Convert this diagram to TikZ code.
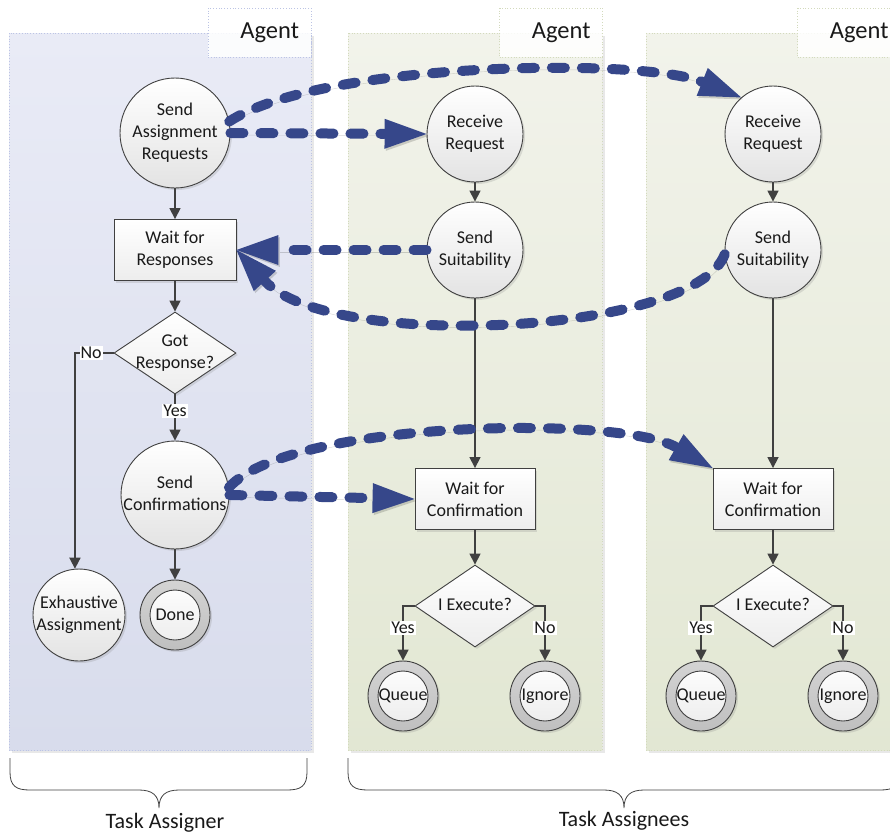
\documentclass[tikz,border=0pt]{standalone}
\usepackage{fontspec}
\setmainfont{Carlito}
\usetikzlibrary{arrows.meta,shapes.geometric,shadows}

\definecolor{edge}{HTML}{404040}
\definecolor{msgblue}{HTML}{36478A}
\definecolor{laneAtop}{HTML}{E9EBF6}
\definecolor{laneAbot}{HTML}{D8DCEC}
\definecolor{laneAline}{HTML}{BCC4E4}
\definecolor{laneBtop}{HTML}{F2F3EB}
\definecolor{laneBbot}{HTML}{E2E7D3}
\definecolor{laneBline}{HTML}{D3DABD}

% centred text that does not enlarge its shape
\newcommand{\ctext}[1]{\smash{\makebox[0pt]{\raisebox{-0.25em}{\begin{tabular}{@{}c@{}}#1\end{tabular}}}}}

\tikzset{
  lane/.style={draw=#1line, dotted, line width=0.8pt,
    drop shadow={shadow xshift=2.5pt, shadow yshift=-2.5pt, opacity=0.18}},
  agentbox/.style={draw=#1, dotted, line width=0.8pt, fill=white, fill opacity=0.85,
    text opacity=1, minimum height=49, text width=79, inner xsep=12, align=right,
    font=\fontsize{24.5}{28}\selectfont},
  shadowed/.style={drop shadow={shadow xshift=2pt, shadow yshift=-2pt, opacity=0.22}},
  state/.style={circle, draw=edge, line width=0.9pt, top color=white, bottom color=black!11,
    inner sep=0pt, minimum size=#1, shadowed},
  proc/.style={rectangle, draw=edge, line width=0.9pt, top color=white, bottom color=black!7,
    align=center, inner sep=0pt, minimum width=#1, minimum height=61, shadowed},
  decide/.style={diamond, draw=edge, line width=0.9pt, top color=white, bottom color=black!7,
    inner sep=0pt, minimum width=#1, minimum height=82, shadowed},
  final/.style={circle, draw=edge, line width=0.9pt, top color=black!17, bottom color=black!25,
    inner sep=0pt, minimum size=70, shadowed,
    path picture={\shadedraw[draw=edge, line width=0.9pt, top color=white, bottom color=black!8]
      (path picture bounding box.center) circle (25pt);}},
  flow/.style={draw=edge, line width=1.6pt, -{Triangle[length=11pt,width=11pt]}},
  lbl/.style={fill=white, inner sep=1pt},
  msg/.style={draw=msgblue, line width=10pt, line cap=round, dash pattern=on 13pt off 17pt,
    -{Triangle[length=42pt,width=30pt,line width=0pt]},
    preaction={draw=black, opacity=0.16, transform canvas={shift={(1.5pt,-2pt)}}}},
  brace/.style={draw=edge, line width=0.8pt},
  caption/.style={font=\fontsize{22}{26}\selectfont}
}

\begin{document}
\begin{tikzpicture}[x=1pt, y=-1pt, font=\fontsize{18}{22}\selectfont, text=black!90]
\useasboundingbox (0,0) rectangle (890,836);

% swim lanes
\shade[lane=laneA, top color=laneAtop, bottom color=laneAbot] (9,33) rectangle (311,750);
\shade[lane=laneB, top color=laneBtop, bottom color=laneBbot] (348,33) rectangle (602,750);
\shade[lane=laneB, top color=laneBtop, bottom color=laneBbot] (646,33) rectangle (901,750);

\node[agentbox=laneAline] (agA) at (259.5,32.5) {Agent};
\node[agentbox=laneBline] (agB) at (551,32.5) {Agent};
\node[agentbox=laneBline] (agC) at (849,32.5) {Agent};

% task assigner
\node[state=110] (sar) at (175,133) {\ctext{Send\\Assignment\\Requests}};
\node[proc=122] (wr) at (175,250) {Wait for\\Responses};
\node[decide=122] (gr) at (175,353) {\ctext{Got\\Response?}};
\node[state=108] (sc) at (175,495) {\ctext{Send\\Confirmations}};
\node[final] (done) at (175,615) {Done};
\node[state=92] (ex) at (79,615) {\ctext{Exhaustive\\Assignment}};

% first assignee
\node[state=96] (rrA) at (475,134) {\ctext{Receive\\Request}};
\node[state=96] (ssA) at (475,250) {\ctext{Send\\Suitability}};
\node[proc=120] (wcA) at (475,499) {Wait for\\Confirmation};
\node[decide=120] (ieA) at (475,606) {\ctext{I Execute?}};
\node[final] (quA) at (403,696) {Queue};
\node[final] (igA) at (545,696) {Ignore};

% second assignee
\node[state=96] (rrB) at (773,134) {\ctext{Receive\\Request}};
\node[state=96] (ssB) at (773,250) {\ctext{Send\\Suitability}};
\node[proc=120] (wcB) at (773,499) {Wait for\\Confirmation};
\node[decide=120] (ieB) at (773,606) {\ctext{I Execute?}};
\node[final] (quB) at (701,696) {Queue};
\node[final] (igB) at (843,696) {Ignore};

% control flow
\draw[flow] (sar) -- (wr);
\draw[flow] (wr) -- (gr);
\draw[flow] (gr) -- node[lbl, pos=0.36] {Yes} (sc);
\draw[flow] (gr.west) -| node[lbl, pos=0.29] {No} (ex.95);
\draw[flow] (sc) -- (done);

\draw[flow] (rrA) -- (ssA);
\draw[flow] (ssA) -- (wcA);
\draw[flow] (wcA) -- (ieA);
\draw[flow] (ieA.west) -| node[lbl, pos=0.7] {Yes} (quA.north);
\draw[flow] (ieA.east) -| node[lbl, pos=0.7] {No} (igA.north);

\draw[flow] (rrB) -- (ssB);
\draw[flow] (ssB) -- (wcB);
\draw[flow] (wcB) -- (ieB);
\draw[flow] (ieB.west) -| node[lbl, pos=0.7] {Yes} (quB.north);
\draw[flow] (ieB.east) -| node[lbl, pos=0.7] {No} (igB.north);

% messages between agents
\draw[msg] (sar.east) -- (rrA.west);
\draw[msg] (sar.12) .. controls (320,62) and (640,57) .. (rrB.131);
\draw[msg] (ssA.west) -- (wr.east);
\draw[msg] (ssB.185) .. controls (695,335) and (330,352) .. (wr.east);
\draw[msg] (sc.east) -- (wcA.west);
\draw[msg] (sc.8) .. controls (290,420) and (620,415) .. (wcB.north west);

% group braces
\draw[brace] (10,758) -- (10,772) .. controls (10,786) and (16,790) .. (30,790) -- (139,790)
  .. controls (152,790) and (159,795) .. (159,808)
  .. controls (159,795) and (166,790) .. (179,790) -- (287,790)
  .. controls (301,790) and (307,786) .. (307,772) -- (307,758);
\draw[brace] (348,758) -- (348,772) .. controls (348,786) and (354,790) .. (368,790) -- (604,790)
  .. controls (617,790) and (624,795) .. (624,808)
  .. controls (624,795) and (631,790) .. (644,790) -- (880,790)
  .. controls (894,790) and (900,786) .. (900,772) -- (900,758);

\node[caption] (asg) at (165,823) {Task Assigner};
\node[caption] (asgs) at (624,821) {Task Assignees};
\end{tikzpicture}
\end{document}
